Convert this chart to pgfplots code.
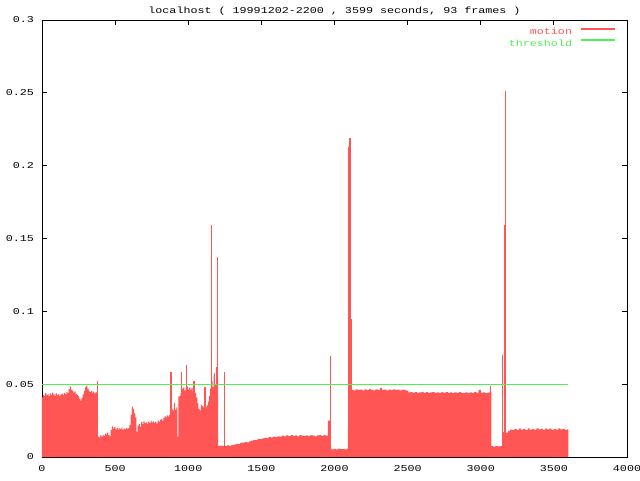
\documentclass[border=0pt]{standalone}
\usepackage{pgfplots}
\pgfplotsset{compat=1.18}
\usepackage{fontspec}
\newfontfamily\gp[FakeStretch=1.3]{Liberation Mono}
\newcommand\gpfont{\gp\fontsize{9}{11}\selectfont}
\definecolor{mred}{RGB}{255,85,85}
\definecolor{gpgreen}{RGB}{80,240,80}
\begin{document}
\begin{tikzpicture}
\useasboundingbox (-42pt,-23pt) rectangle (598pt,457pt);
\begin{axis}[
  scale only axis, width=585pt, height=437pt,
  xmin=0, xmax=4000, ymin=0, ymax=0.3,
  xtick={0,500,1000,1500,2000,2500,3000,3500,4000},
  xticklabels={0,500,1000,1500,2000,2500,3000,3500,4000},
  ytick={0,0.05,0.1,0.15,0.2,0.25,0.3},
  yticklabels={0,0.05,0.1,0.15,0.2,0.25,0.3},
  tick align=inside, major tick length=5pt,
  axis line style={line width=0.8pt},
  tick style={black, line width=0.8pt},
  every tick label/.append style={font=\gpfont},
  xticklabel style={yshift=-5pt},
  yticklabel style={xshift=-4.5pt},
  title={localhost ( 19991202-2200 , 3599 seconds, 93 frames )},
  title style={at={(0.5,1)}, anchor=base, yshift=0pt, font=\gpfont},
  legend style={draw=none, fill=none, at={(rel axis cs:0.984,0.987)}, anchor=north east,
    font=\gpfont, row sep=5pt, column sep=9pt,
    nodes={inner sep=0pt, text height=6pt, text depth=0pt}},
  legend cell align=right,
  legend plot pos=right,
]
\addplot[fill=mred, draw=none, const plot, forget plot] coordinates {
(0,0.0410) (8,0.0425) (15,0.0418) (22,0.0440) (30,0.0425) (38,0.0432) (46,0.0418) (54,0.0436)
(62,0.0427) (70,0.0442) (78,0.0430) (86,0.0420) (94,0.0436) (102,0.0425) (110,0.0430) (118,0.0418)
(126,0.0428) (134,0.0435) (142,0.0424) (150,0.0440) (158,0.0432) (166,0.0445) (174,0.0438) (182,0.0466)
(190,0.0485) (198,0.0462) (206,0.0455) (214,0.0442) (222,0.0450) (230,0.0432) (238,0.0425) (246,0.0418)
(254,0.0400) (262,0.0385) (270,0.0405) (278,0.0430) (286,0.0452) (294,0.0478) (302,0.0490) (310,0.0470)
(318,0.0455) (326,0.0445) (334,0.0452) (342,0.0440) (350,0.0448) (358,0.0436) (366,0.0445) (374,0.0440)
(382,0.0140) (390,0.0135) (398,0.0148) (406,0.0140) (414,0.0152) (422,0.0145) (430,0.0160) (438,0.0155)
(446,0.0168) (454,0.0150) (462,0.0142) (470,0.0185) (478,0.0210) (486,0.0195) (494,0.0205) (502,0.0190)
(510,0.0200) (518,0.0188) (526,0.0196) (534,0.0192) (542,0.0202) (550,0.0188) (558,0.0195) (566,0.0190)
(574,0.0200) (582,0.0193) (590,0.0198) (598,0.0220) (606,0.0290) (614,0.0345) (622,0.0330) (630,0.0300)
(638,0.0270) (646,0.0175) (654,0.0215) (662,0.0225) (670,0.0205) (678,0.0240) (686,0.0225) (694,0.0245)
(702,0.0232) (710,0.0238) (718,0.0228) (726,0.0242) (734,0.0235) (742,0.0250) (750,0.0238) (758,0.0245)
(766,0.0235) (774,0.0240) (782,0.0230) (790,0.0252) (798,0.0242) (806,0.0255) (814,0.0262) (822,0.0250)
(830,0.0268) (838,0.0280) (846,0.0272) (854,0.0285) (862,0.0278) (870,0.0290) (878,0.0310) (886,0.0330)
(894,0.0320) (902,0.0370) (910,0.0325) (918,0.0340) (926,0.0140) (932,0.0415) (940,0.0420) (948,0.0440)
(958,0.0470) (966,0.0480) (974,0.0455) (982,0.0470) (990,0.0485) (998,0.0465) (1006,0.0478) (1014,0.0460)
(1022,0.0472) (1030,0.0450) (1038,0.0420) (1046,0.0440) (1054,0.0410) (1062,0.0370) (1070,0.0330) (1078,0.0320)
(1086,0.0360) (1094,0.0350) (1102,0.0340) (1110,0.0365) (1118,0.0340) (1126,0.0355) (1134,0.0380) (1142,0.0420)
(1150,0.0470) (1158,0.0520) (1166,0.0480) (1174,0.0560) (1182,0.0500) (1190,0.0570) (1198,0.0540) (1204,0.0075)
(1215,0.0078) (1230,0.0074) (1250,0.0076) (1265,0.0080) (1280,0.0078) (1295,0.0082) (1310,0.0085) (1325,0.0090)
(1340,0.0088) (1355,0.0095) (1370,0.0098) (1385,0.0102) (1400,0.0100) (1415,0.0108) (1430,0.0112) (1445,0.0118)
(1460,0.0115) (1475,0.0125) (1490,0.0122) (1505,0.0128) (1520,0.0132) (1535,0.0130) (1550,0.0136) (1565,0.0134)
(1580,0.0140) (1595,0.0137) (1610,0.0142) (1625,0.0140) (1640,0.0146) (1655,0.0141) (1670,0.0148) (1685,0.0144)
(1700,0.0150) (1715,0.0145) (1730,0.0148) (1745,0.0142) (1760,0.0150) (1775,0.0146) (1790,0.0143) (1805,0.0149)
(1820,0.0144) (1835,0.0150) (1850,0.0146) (1865,0.0141) (1880,0.0148) (1895,0.0151) (1910,0.0145) (1925,0.0150)
(1940,0.0147) (1955,0.0250) (1968,0.0055) (1980,0.0052) (1995,0.0056) (2010,0.0053) (2025,0.0057) (2040,0.0054)
(2055,0.0056) (2070,0.0053) (2085,0.0055) (2092,0.0200) (2115,0.0460)
(2130,0.0458) (2145,0.0465) (2160,0.0460) (2175,0.0463) (2190,0.0457) (2205,0.0464) (2220,0.0459) (2235,0.0466)
(2250,0.0461) (2265,0.0458) (2280,0.0465) (2295,0.0460) (2310,0.0474) (2325,0.0461) (2340,0.0463) (2355,0.0457)
(2370,0.0462) (2385,0.0459) (2400,0.0465) (2415,0.0460) (2430,0.0463) (2445,0.0458) (2460,0.0462) (2475,0.0459)
(2490,0.0455) (2505,0.0443) (2520,0.0446) (2535,0.0441) (2550,0.0445) (2565,0.0440) (2580,0.0444) (2595,0.0447)
(2610,0.0441) (2625,0.0445) (2640,0.0439) (2655,0.0444) (2670,0.0446) (2685,0.0440) (2700,0.0443) (2715,0.0438)
(2730,0.0445) (2745,0.0441) (2760,0.0446) (2775,0.0440) (2790,0.0443) (2805,0.0439) (2820,0.0444) (2835,0.0440)
(2850,0.0445) (2865,0.0441) (2880,0.0438) (2895,0.0443) (2910,0.0440) (2925,0.0444) (2940,0.0439) (2955,0.0445)
(2970,0.0441) (2985,0.0460) (3000,0.0440) (3015,0.0443) (3030,0.0438) (3045,0.0442) (3060,0.0445) (3072,0.0075)
(3085,0.0072) (3100,0.0076) (3115,0.0073) (3130,0.0075) (3145,0.0074) (3150,0.0170) (3160,0.0165) (3175,0.0165)
(3185,0.0180) (3200,0.0188) (3215,0.0185) (3230,0.0192) (3245,0.0186) (3260,0.0195) (3275,0.0188) (3290,0.0193)
(3305,0.0185) (3320,0.0196) (3335,0.0187) (3350,0.0192) (3365,0.0186) (3380,0.0197) (3395,0.0189) (3410,0.0193)
(3425,0.0186) (3440,0.0195) (3455,0.0190) (3470,0.0194) (3485,0.0187) (3500,0.0192) (3515,0.0188) (3530,0.0196)
(3545,0.0189) (3560,0.0193) (3575,0.0187) (3590,0.0190) (3599,0.0190)
} \closedcycle;
\addplot[ycomb, mred, line width=1.2pt, forget plot] coordinates {
(380,0.052) (882,0.0585) (955,0.0585) (989,0.063) (1040,0.052) (1115,0.048)
(1160,0.159) (1178,0.058) (1194,0.062) (1201,0.137) (1247,0.0585)
(1970,0.069) (2099,0.213) (2106,0.219) (2113,0.095)
(3068,0.049) (3148,0.070) (3164,0.159) (3171,0.251)
};
\addplot[gpgreen, line width=0.8pt, forget plot] coordinates {(0,0.05) (3599,0.05)};
\addlegendimage{legend image code/.code={\fill[mred] (0pt,2.6pt) rectangle (33pt,3.4pt);}}
\addlegendentry{\textcolor{mred}{motion}}
\addlegendimage{legend image code/.code={\fill[gpgreen] (0pt,2.6pt) rectangle (33pt,3.4pt);}}
\addlegendentry{\textcolor{gpgreen}{threshold}}
\end{axis}
\end{tikzpicture}
\end{document}
